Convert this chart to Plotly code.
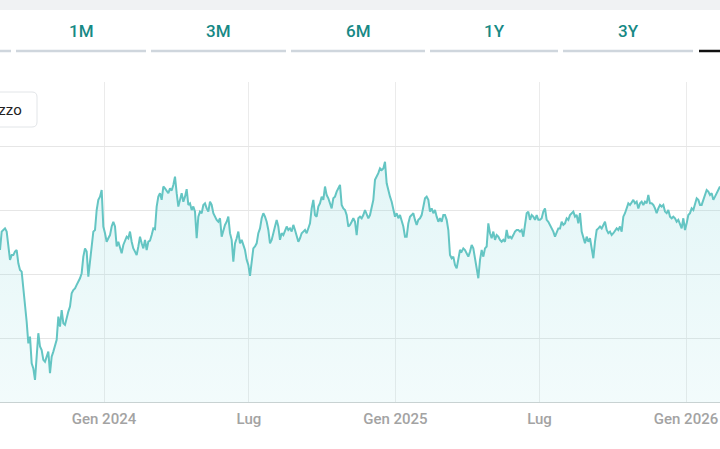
import pandas as pd
import plotly.graph_objects as go

# ---------------- data ----------------
START_DATE = "2023-08-23 09:00"
END_DATE = "2026-02-12 17:00"

prices = [
    57.0, 63.9, 64.5, 65.1, 63.9, 58.3, 53.3, 55.1, 55.1, 56.4,
    57.0, 52.0, 49.5, 48.9, 43.3, 35.8, 30.1, 22.0, 24.5, 14.5,
    12.6, 8.3, 18.3, 25.8, 20.8, 19.5, 15.8, 15.1, 17.0, 18.9,
    10.8, 17.0, 18.9, 20.8, 23.3, 32.0, 28.3, 34.5, 29.5, 28.9,
    32.0, 33.9, 35.8, 40.8, 42.0, 42.6, 43.9, 45.1, 46.4, 48.3,
    54.5, 57.6, 56.4, 47.0, 52.0, 58.3, 63.9, 64.5, 72.0, 75.8,
    77.0, 79.5, 65.8, 63.3, 60.1, 61.4, 62.6, 65.8, 67.6, 65.8,
    58.3, 60.1, 57.6, 55.8, 58.9, 60.8, 62.0, 61.4, 63.9, 60.1,
    57.6, 56.4, 55.1, 58.3, 62.0, 59.5, 57.6, 60.8, 57.0, 60.1,
    60.5, 62.6, 65.1, 64.8, 73.3, 77.0, 78.3, 75.8, 80.8, 80.1,
    78.9, 78.3, 80.1, 79.3, 81.4, 84.5, 78.3, 73.3,
    75.8, 78.3, 75.1, 77.0, 79.8, 73.9, 74.5, 72.0, 73.3, 71.4,
    61.4, 69.5, 71.4, 70.8, 73.9, 74.5, 72.6, 71.4, 75.1, 73.9,
    70.8, 69.5, 68.3, 67.6, 68.9, 62.0, 64.5, 66.4, 67.6, 69.5,
    63.3, 60.8, 52.6, 59.5, 61.4, 63.9, 59.5, 60.8, 58.9, 57.0,
    53.3, 51.4, 47.3, 53.3, 57.6, 58.3, 59.5, 63.3, 65.1, 68.9,
    70.8, 69.5, 67.6, 64.5, 59.5, 60.8, 63.9, 65.8, 68.3, 65.8,
    60.8, 63.3, 62.6, 64.5, 65.8, 64.5, 65.1, 63.9, 66.4, 64.5,
    62.6, 60.1, 61.4, 63.3, 63.9, 64.5, 63.3, 65.1, 67.0, 72.6,
    75.8, 70.1, 69.5, 73.3, 74.5, 77.0, 75.8, 80.8, 77.6, 76.4,
    74.5, 72.6, 76.4, 77.0, 78.9, 80.1, 81.4, 73.9, 72.6, 72.0,
    70.1, 65.8, 66.4, 67.6, 68.9, 67.6, 62.6, 68.9,
    69.5, 68.9, 70.1, 72.0, 70.1, 68.9, 70.1, 73.3, 75.8, 83.3,
    84.5, 85.8, 87.6, 87.0, 87.6, 90.1, 82.0, 78.9, 77.0, 75.1,
    72.0, 69.5, 70.8, 68.9, 70.1, 67.6, 65.8, 62.0, 62.0, 67.0,
    69.5, 70.1, 70.8, 68.3, 66.4, 68.3, 68.9, 70.1, 73.9, 76.4,
    77.0, 75.8, 71.4, 72.6, 70.8, 72.0, 69.5, 67.6, 68.9, 67.6,
    70.1, 70.1, 68.3, 64.5, 55.1, 53.9, 54.5, 51.4, 50.1, 54.5,
    57.0, 56.4, 57.6, 57.0, 55.8, 54.5, 56.4, 58.9, 57.6, 53.9,
    50.1, 46.4, 53.3, 57.0, 54.5, 57.6, 58.3, 67.0, 63.3, 61.4,
    63.9, 60.8, 62.6, 62.0, 60.8, 60.1, 60.8, 60.1, 64.5, 61.4,
    62.0, 61.4, 62.6, 63.9, 64.5, 64.5, 63.9, 64.5, 62.0, 65.8,
    70.8, 71.4, 68.3, 70.1, 69.5, 68.3, 70.1, 68.3,
    68.3, 68.9, 71.4, 72.6, 68.3, 67.6, 66.4, 65.1, 63.9, 62.0,
    63.3, 65.1, 65.1, 67.6, 66.4, 67.0, 68.9, 68.3, 70.1, 70.8,
    71.4, 69.5, 70.1, 67.0, 70.8, 63.9, 61.4, 59.5, 62.0, 60.1,
    61.4, 58.3, 53.9, 60.1, 64.5, 65.1, 65.8, 65.1, 66.4, 67.6,
    64.5, 63.3, 63.9, 62.6, 63.3, 64.5, 65.1, 64.5, 65.8, 63.9,
    69.5, 70.8, 72.6, 74.5, 73.9, 75.1, 75.8, 74.5, 75.1, 72.6,
    74.5, 75.1, 73.9, 75.1, 74.5, 77.6, 74.5, 74.5, 73.9, 72.6,
    70.8, 72.6, 73.9, 73.3, 73.9, 71.4, 70.8, 72.0, 69.5, 68.9,
    69.5, 68.9, 67.6, 68.3, 66.4, 65.1, 68.9, 64.5, 67.0, 70.1,
    70.8, 72.6, 72.0, 74.5, 76.4, 75.8, 73.9, 73.9, 75.8, 78.3,
    79.5, 78.9, 77.6, 78.3, 75.8, 77.0, 78.3, 79.5, 80.8,
]
dates = pd.date_range(START_DATE, END_DATE, periods=len(prices))

tick_dates = ["2024-01-01", "2024-07-01", "2025-01-01", "2025-07-01", "2026-01-01"]
tick_labels = ["Gen 2024", "Lug", "Gen 2025", "Lug", "Gen 2026"]

button_labels = ["1M", "3M", "6M", "1Y", "3Y"]
series_name = "Prezzo"

# ---------------- layout helpers ----------------
W, H = 720, 449
PLOT_TOP, PLOT_BOTTOM = 82, 402


def px(x):
    return x / W


def py(y):
    return (PLOT_BOTTOM - y) / (PLOT_BOTTOM - PLOT_TOP)


LINE_COLOR = "#64c5c3"

fig = go.Figure()
fig.add_trace(go.Scatter(
    x=dates, y=prices, mode="lines", name=series_name,
    line=dict(color=LINE_COLOR, width=2),
    fill="tozeroy",
    fillgradient=dict(type="vertical",
                      colorscale=[[0, "rgba(140,220,225,0.11)"],
                                  [1, "rgba(120,210,215,0.21)"]]),
    hoverinfo="skip",
))

shapes = []
# top grey band
shapes.append(dict(type="rect", xref="paper", yref="paper",
                   x0=px(-5), x1=px(W + 5), y0=py(0), y1=py(10),
                   fillcolor="#f0f2f3", line=dict(width=0), layer="above"))
# range-selector underlines
segments = [(-120, 11), (16, 146), (151, 286), (291, 425), (430, 558), (563, 693)]
for x0, x1 in segments:
    shapes.append(dict(type="line", xref="paper", yref="paper",
                       x0=px(x0), x1=px(x1), y0=py(51), y1=py(51),
                       line=dict(color="#cfd6dd", width=2.5)))
shapes.append(dict(type="line", xref="paper", yref="paper",
                   x0=px(699), x1=px(830), y0=py(51), y1=py(51),
                   line=dict(color="#111111", width=2.5)))

# legend box (rounded)
bx0, bx1, by0, by1, r = -60, 37, 92, 127, 5
path = (f"M {px(bx0)},{py(by0)} L {px(bx1 - r)},{py(by0)} "
        f"Q {px(bx1)},{py(by0)} {px(bx1)},{py(by0 + r)} "
        f"L {px(bx1)},{py(by1 - r)} "
        f"Q {px(bx1)},{py(by1)} {px(bx1 - r)},{py(by1)} "
        f"L {px(bx0)},{py(by1)} Z")
shapes.append(dict(type="path", xref="paper", yref="paper", path=path,
                   fillcolor="white", line=dict(color="#e2e5e8", width=1),
                   layer="above"))

annotations = []
centers = [81, 218.5, 358, 494, 628]
for lab, cx in zip(button_labels, centers):
    annotations.append(dict(text=lab, x=px(cx), y=py(31), xref="paper", yref="paper",
                            xanchor="center", yanchor="middle", showarrow=False,
                            font=dict(family="Roboto", size=17, color="#178985", weight=500)))
annotations.append(dict(text=series_name, x=px(24.5), y=py(110), xref="paper", yref="paper",
                        xanchor="right", yanchor="middle", showarrow=False,
                        font=dict(family="Roboto", size=15, color="#222222")))

fig.update_layout(
    width=W, height=H,
    margin=dict(l=0, r=0, t=PLOT_TOP, b=H - PLOT_BOTTOM),
    paper_bgcolor="white", plot_bgcolor="white",
    showlegend=False,
    shapes=shapes, annotations=annotations,
    xaxis=dict(
        type="date", range=[START_DATE, END_DATE],
        tickvals=tick_dates, ticktext=tick_labels,
        showgrid=True, gridcolor="#ebebeb", gridwidth=1,
        showline=True, linecolor="#c8d2d2", linewidth=1,
        ticks="", zeroline=False, ticklabelstandoff=3,
        tickfont=dict(family="Roboto", size=15, color="#a3a3a3", weight=500),
        fixedrange=True,
    ),
    yaxis=dict(
        range=[0, 120], dtick=24, tick0=0,
        showticklabels=False, showgrid=True, gridcolor="#e6e6e6", gridwidth=1,
        zeroline=False, showline=False, ticks="", fixedrange=True,
    ),
)

fig.write_html("out.html", config={"displayModeBar": False})
